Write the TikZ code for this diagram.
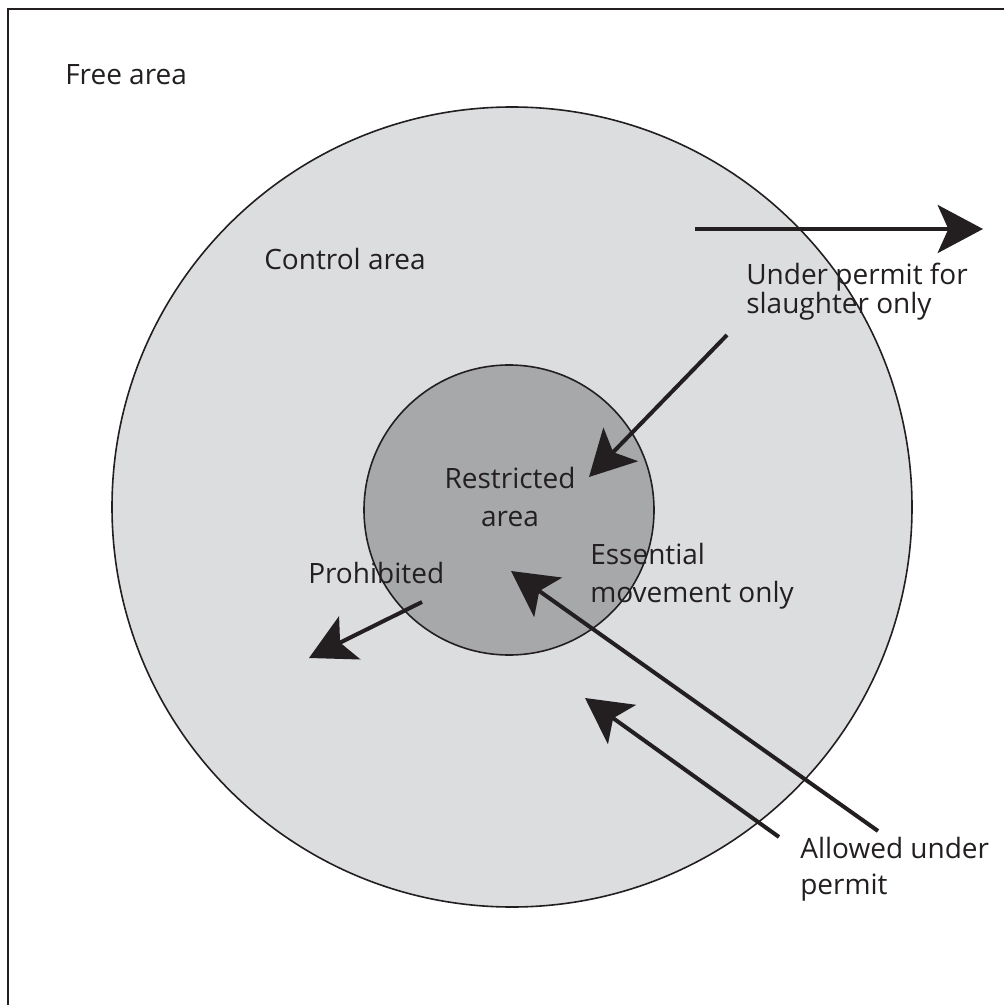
\documentclass[tikz,border=0pt]{standalone}
\usepackage{fontspec}
\setmainfont{Open Sans}
\usetikzlibrary{arrows.meta}
\definecolor{controlgray}{HTML}{DCDDDF}
\definecolor{restrictgray}{HTML}{A7A8AA}
\definecolor{inkc}{HTML}{231F20}
\begin{document}
\begin{tikzpicture}[x=0.75pt,y=-0.75pt,
  lbl/.style={font=\fontsize{21}{21}\selectfont, text=inkc, inner sep=0pt, anchor=base west, align=left},
  mv/.style={draw=inkc, line width=3pt, -{Stealth[length=34pt,width=36pt,inset=8pt]}},
  zone/.style={draw=inkc, line width=1.2pt}]
\useasboundingbox (0,0) rectangle (1003,1005);
\fill[white] (0,0) rectangle (1003,1005);
\draw[draw=inkc, line width=2pt] (8,9) rectangle (1020,1020);
\node[zone, circle, fill=controlgray, minimum size=800*0.75pt, inner sep=0pt] (control) at (512,507) {};
\node[zone, circle, fill=restrictgray, minimum size=290*0.75pt, inner sep=0pt] (restricted) at (509,510) {};
% arrow endpoints
\coordinate (a1s) at (695,229); \coordinate (a1e) at (983,229);
\coordinate (a2s) at (727,335); \coordinate (a2e) at (589,477);
\coordinate (a3s) at (422,602); \coordinate (a3e) at (309,658);
\coordinate (a4s) at (878,831); \coordinate (a4e) at (511,571);
\coordinate (a5s) at (779,837); \coordinate (a5e) at (585,698);
\draw[mv] (a1s) -- (a1e);
\draw[mv] (a2s) -- (a2e);
\draw[mv] (a3s) -- (a3e);
\draw[mv] (a4s) -- (a4e);
\draw[mv] (a5s) -- (a5e);
% labels
\node[lbl] (free) at (65,85) {Free area};
\node[lbl] (ctrl) at (264,270) {Control area};
\node[lbl, font=\fontsize{21}{21}\selectfont] (slaughter) at (746,313) {Under permit for\\slaughter only};
\node[lbl, anchor=base, align=center, font=\fontsize{21}{28}\selectfont] (restr) at (510,526) {Restricted\\area};
\node[lbl, font=\fontsize{21}{28}\selectfont] (essential) at (590,602) {Essential\\movement only};
\node[lbl] (prohib) at (308,583) {Prohibited};
\node[lbl, font=\fontsize{21}{27}\selectfont] (allowed) at (800,894) {Allowed under\\permit};
\end{tikzpicture}
\end{document}
